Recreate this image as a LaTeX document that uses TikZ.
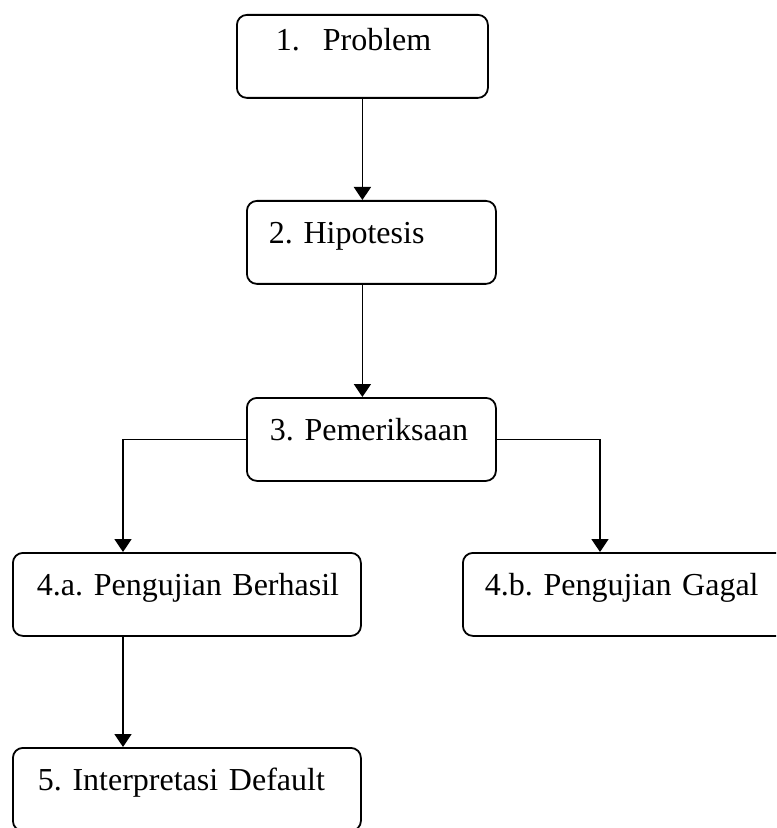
\documentclass[tikz,border=0pt]{standalone}
\usepackage{fontspec}
\setmainfont{Liberation Serif}
\usetikzlibrary{arrows.meta}

\begin{document}
\begin{tikzpicture}[x=0.5pt, y=-0.5pt,
	kotak/.style={draw, line width=0.9pt, rounded corners=5pt, anchor=north west, align=left,
		inner ysep=0pt, text height=21.5pt, text depth=20pt, font=\fontsize{16}{19}\selectfont\frenchspacing},
	panah/.style={-{Triangle[width=8.5pt,length=6.5pt]}, line width=0.9pt}]
	\clip (0,0) rectangle (776,828);
	%Kotak-kotak
	\node[kotak, inner xsep=19.5pt, text width=86.5pt, text height=18pt, text depth=23.5pt] (prob) at (236,14) {1.\hspace*{11.5pt}Problem};
	\node[kotak, inner xsep=11pt, text width=102.5pt] (hipo) at (246,200) {2. Hipotesis};
	\node[kotak, inner xsep=11.5pt, text width=101.5pt] (peri) at (246,397) {\mbox{3. Pemeriksaan}};
	\node[kotak, inner xsep=12pt, text width=150pt] (berh) at (12,552) {\mbox{4.a. Pengujian Berhasil}};
	\node[kotak, inner xsep=11pt, text width=143pt] (gagal) at (462,552) {\mbox{4.b. Pengujian Gagal}};
	\node[kotak, inner xsep=12.5pt, text width=149pt] (interp) at (12,747) {\mbox{5. Interpretasi Default}};

	%Panah
	\draw[panah] (prob.south) -- (prob.south |- hipo.north);
	\draw[panah] (hipo.south -| prob.south) -- (peri.north -| prob.south);
	\draw[panah] (peri.west) -| ([xshift=55.5pt]berh.north west);
	\draw[panah] (peri.east) -| ([xshift=69pt]gagal.north west);
	\draw[panah] ([xshift=55.5pt]berh.south west) -- ([xshift=55.5pt]interp.north west);
\end{tikzpicture}
\end{document}
